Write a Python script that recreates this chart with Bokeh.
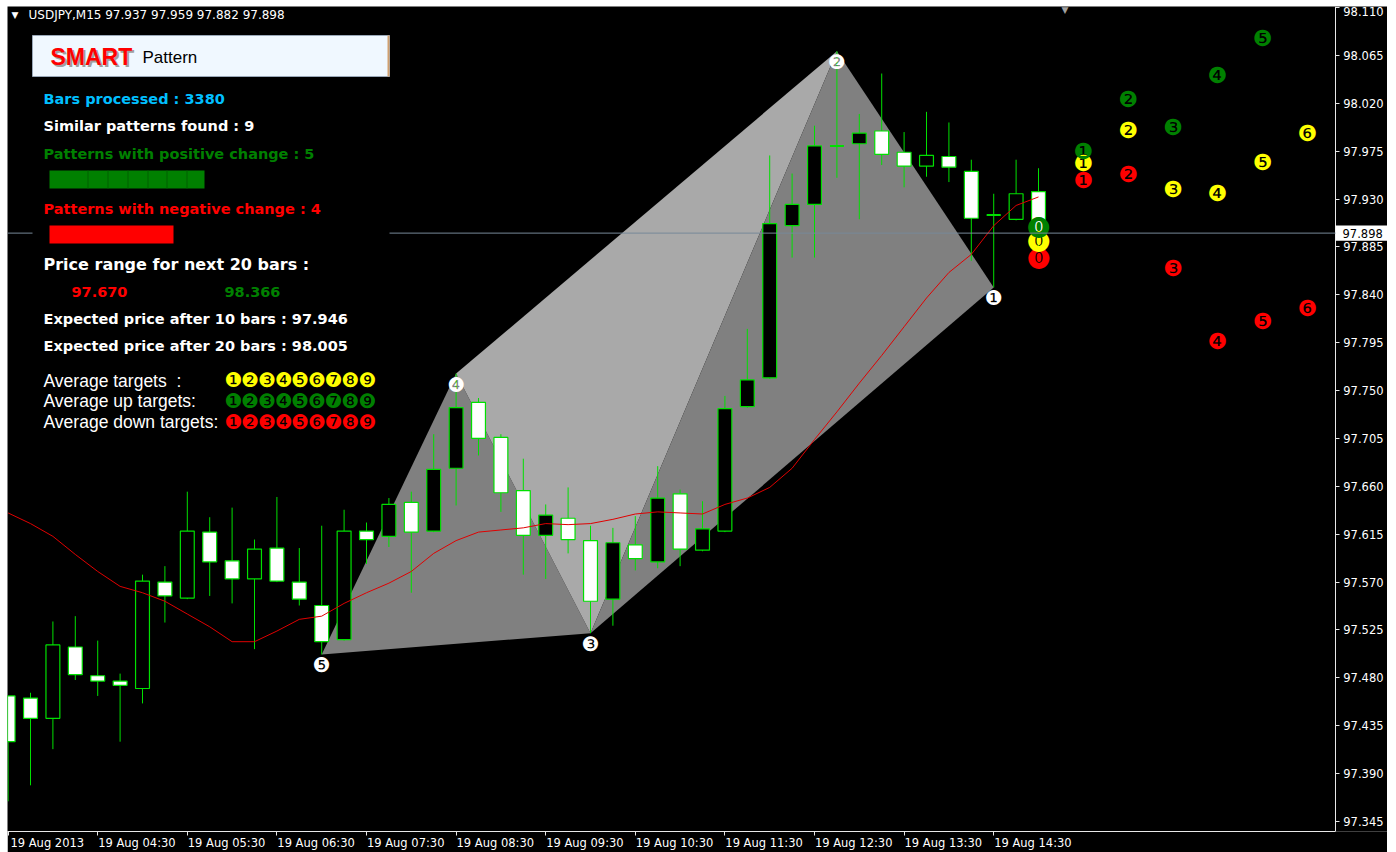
from bokeh.plotting import figure
from bokeh.models import Range1d, FixedTicker, Label, BoxAnnotation, Span, PrintfTickFormatter, ColumnDataSource
from bokeh.embed import file_html
from bokeh.resources import INLINE
from bokeh.core.properties import value

# ---------------- data ----------------
opens = [97.463, 97.461, 97.442, 97.509, 97.482, 97.477, 97.470, 97.570, 97.555, 97.617,
         97.590, 97.573, 97.602, 97.570, 97.548, 97.516, 97.618, 97.613, 97.645, 97.618,
         97.677, 97.739, 97.706, 97.656, 97.614, 97.630, 97.609, 97.554, 97.605, 97.589,
         97.653, 97.600, 97.618, 97.735, 97.762, 97.905, 97.925, 97.980, 97.982, 97.994,
         97.974, 97.961, 97.970, 97.956, 97.915, 97.911, 97.937]
highs = [97.463, 97.466, 97.533, 97.538, 97.515, 97.484, 97.577, 97.585, 97.655, 97.631,
         97.640, 97.610, 97.650, 97.602, 97.623, 97.638, 97.626, 97.649, 97.655, 97.709,
         97.766, 97.743, 97.709, 97.686, 97.643, 97.659, 97.623, 97.621, 97.632, 97.679,
         97.657, 97.646, 97.745, 97.808, 97.971, 97.954, 97.999, 98.069, 98.010, 98.048,
         97.993, 98.012, 98.002, 97.967, 97.935, 97.967, 97.959]
lows = [97.364, 97.379, 97.413, 97.478, 97.463, 97.420, 97.456, 97.532, 97.554, 97.557,
        97.550, 97.507, 97.570, 97.548, 97.502, 97.515, 97.587, 97.603, 97.560, 97.617,
        97.642, 97.689, 97.636, 97.577, 97.573, 97.597, 97.522, 97.529, 97.581, 97.583,
        97.585, 97.599, 97.617, 97.734, 97.761, 97.875, 97.875, 97.950, 97.911, 97.962,
        97.941, 97.951, 97.946, 97.872, 97.847, 97.910, 97.882]
closes = [97.420, 97.442, 97.511, 97.483, 97.477, 97.473, 97.571, 97.557, 97.618, 97.589,
          97.573, 97.601, 97.571, 97.554, 97.514, 97.618, 97.610, 97.643, 97.617, 97.676,
          97.734, 97.705, 97.654, 97.614, 97.633, 97.610, 97.552, 97.607, 97.592, 97.649,
          97.601, 97.620, 97.733, 97.760, 97.907, 97.925, 97.980, 97.980, 97.992, 97.972,
          97.961, 97.971, 97.960, 97.912, 97.915, 97.935, 97.898]
ma = [97.635, 97.625, 97.613, 97.596, 97.580, 97.566, 97.560, 97.552, 97.540, 97.528,
      97.514, 97.514, 97.524, 97.535, 97.538, 97.550, 97.560, 97.569, 97.580, 97.597,
      97.609, 97.617, 97.619, 97.621, 97.625, 97.624, 97.625, 97.629, 97.634, 97.636,
      97.635, 97.634, 97.643, 97.649, 97.659, 97.677, 97.704, 97.730, 97.757, 97.783,
      97.810, 97.837, 97.861, 97.878, 97.905, 97.924, 97.932]

hour_bars = [0, 4, 8, 12, 16, 20, 24, 28, 32, 36, 40, 44]
hour_labels = ["19 Aug 2013", "19 Aug 04:30", "19 Aug 05:30", "19 Aug 06:30", "19 Aug 07:30",
               "19 Aug 08:30", "19 Aug 09:30", "19 Aug 10:30", "19 Aug 11:30", "19 Aug 12:30",
               "19 Aug 13:30", "19 Aug 14:30"]
price_ticks = [97.345, 97.390, 97.435, 97.480, 97.525, 97.570, 97.615, 97.660, 97.705, 97.750,
               97.795, 97.840, 97.885, 97.930, 97.975, 98.020, 98.065, 98.110]
last_price = 97.898

# zigzag pattern points (label, bar, price)
pattern_names = ["1", "2", "3", "4", "5"]
pattern_bars = [44, 37, 26, 20, 14]
pattern_prices = [97.847, 98.069, 97.522, 97.766, 97.502]

# projected targets (step k -> bar last + 2k)
target_steps = [0, 1, 2, 3, 4, 5, 6]
targets_avg = [97.893, 97.964, 97.995, 97.940, 97.936, 97.965, 97.993]
targets_up = [97.907, 97.976, 98.025, 97.998, 98.047, 98.082]
targets_down = [97.877, 97.948, 97.954, 97.866, 97.797, 97.816, 97.828]

NEG = ["\u24ff", "\u2776", "\u2777", "\u2778", "\u2779", "\u277a", "\u277b", "\u277c", "\u277d", "\u277e"]

# ---------------- figure ----------------
FL, FT = 7, 6          # page position of frame
FW, FH = 1380, 826     # frame size (includes the price-scale strip)
FB = FT + FH           # frame bottom (page y)
X_LEFT, X_SCALE, X_RIGHT = -0.027, 59.26, 61.58   # chart edge / price-scale edge in bar units

p = figure(width=FW, height=846, x_range=Range1d(X_LEFT, X_RIGHT), y_range=Range1d(97.3356, 98.111),
           y_axis_location="left", title_location=None, output_backend="svg", toolbar_location=None,
           min_border_left=0, min_border_top=0, min_border_right=0, min_border_bottom=20,
           background_fill_color="black", border_fill_color="black", outline_line_color=None)
p.margin = (FT, 0, 0, FL)
p.grid.visible = False

AX = "#e8e8e8"
# price scale: drawn at the chart's right edge, labels to its right
p.yaxis.fixed_location = X_SCALE
p.yaxis.ticker = FixedTicker(ticks=price_ticks)
p.yaxis.formatter = PrintfTickFormatter(format="%.3f")
p.yaxis.axis_line_color = AX
p.yaxis.major_tick_line_color = AX
p.yaxis.major_tick_out = 0
p.yaxis.major_tick_in = 4
p.yaxis.minor_tick_line_color = None
p.yaxis.major_label_standoff = -48
p.yaxis.major_label_text_color = "white"
p.yaxis.major_label_text_font = "DejaVu Sans"
p.yaxis.major_label_text_font_size = "11.5px"

shift = 1.75
p.xaxis.ticker = FixedTicker(ticks=[b + shift for b in hour_bars], minor_ticks=hour_bars)
p.xaxis.major_label_overrides = {b + shift: lab for b, lab in zip(hour_bars, hour_labels)}
p.xaxis.bounds = (X_LEFT, X_SCALE)
p.xaxis.axis_line_color = AX
p.xaxis.major_tick_line_color = None
p.xaxis.major_tick_out = 0
p.xaxis.major_tick_in = 0
p.xaxis.minor_tick_line_color = AX
p.xaxis.minor_tick_out = 4
p.xaxis.minor_tick_in = 0
p.xaxis.major_label_standoff = 0
p.xaxis.major_label_text_color = "white"
p.xaxis.major_label_text_font = "DejaVu Sans"
p.xaxis.major_label_text_font_size = "11.5px"

# pattern triangles
tri = [(4, 3, 2), (3, 2, 1), (2, 1, 0)]
p.patches(xs=[[pattern_bars[a], pattern_bars[b], pattern_bars[c]] for a, b, c in tri],
          ys=[[pattern_prices[a], pattern_prices[b], pattern_prices[c]] for a, b, c in tri],
          fill_color=["#808080", "#a9a9a9", "#808080"], line_color=None)

# candles
GREEN = "#00e000"
idx = list(range(len(opens)))
src = ColumnDataSource(dict(
    x=idx, o=opens, h=highs, l=lows, c=closes,
    top=[max(o, c) for o, c in zip(opens, closes)],
    bot=[min(o, c) for o, c in zip(opens, closes)],
    fill=["black" if c > o else "white" for o, c in zip(opens, closes)],
))
p.segment(x0="x", y0="l", x1="x", y1="h", source=src, line_color=GREEN, line_width=1)
p.vbar(x="x", width=0.62, top="top", bottom="bot", source=src, fill_color="fill",
       line_color=GREEN, line_width=1.2)
dj = [i for i in idx if abs(opens[i] - closes[i]) < 1e-9]
p.segment(x0=[i - 0.31 for i in dj], x1=[i + 0.31 for i in dj], y0=[opens[i] for i in dj],
          y1=[opens[i] for i in dj], line_color=GREEN, line_width=2)

# moving average
p.line(idx, ma, line_color="#e00000", line_width=1)

# pattern point markers
p.text(x=pattern_bars, y=pattern_prices, text=[NEG[int(n)] for n in pattern_names],
       text_color="white", text_font=value("DejaVu Sans"), text_font_size=value("20px"),
       text_align="center", text_baseline="middle", y_offset=11)

# targets
last = idx[-1]
for vals, col in ((targets_down, "#ff0000"), (targets_avg, "#ffff00"), (targets_up, "#008000")):
    ks = target_steps[:len(vals)]
    p.text(x=[last + 2 * k for k in ks], y=vals, text=[NEG[k] for k in ks],
           text_color=col, text_font=value("DejaVu Sans"),
           text_font_size=["21px" if k == 0 else "22px" for k in ks],
           text_align="center", text_baseline="middle", y_offset=1)

# current price line
p.add_layout(Span(location=last_price, dimension="width", line_color="#778899", line_width=1))


def box(x1, y1, x2, y2, fill, line=None):
    p.add_layout(BoxAnnotation(left=x1 - FL, right=x2 - FL, top=FB - y1, bottom=FB - y2,
                               left_units="screen", right_units="screen",
                               top_units="screen", bottom_units="screen",
                               fill_color=fill, fill_alpha=1.0, line_color=line,
                               line_alpha=1.0 if line else 0.0))


def label(text, X, Y, color, size, font="DejaVu Sans", style="bold", **kw):
    p.add_layout(Label(x=X - FL, y=FB - Y, x_units="screen", y_units="screen", text=text,
                       text_color=color, text_font_size=f"{size}px", text_font=font,
                       text_font_style=style, text_baseline="middle", text_align="left", **kw))


# info panel background
box(32, 78, 389, 440, "black")
# title box
box(32, 36, 389, 77, "#f0f8ff", "#9aa8b8")
box(387, 36, 389, 77, "#d0a070")
label("SMART", 52, 59, "#a0a0a0", 23, font="Liberation Sans")
label("SMART", 50, 57, "#ff0000", 23, font="Liberation Sans")
label("Pattern", 142, 58, "#000000", 17, font="Liberation Sans", style="normal")

label("\u25bc", 11, 15, "white", 9, style="normal")
label("USDJPY,M15  97.937 97.959 97.882 97.898", 28, 15, "white", 12, style="normal")

label("Bars processed : 3380", 43, 99, "#00bfff", 14.5)
label("Similar patterns found : 9", 43, 126, "white", 14.5)
label("Patterns with positive change : 5", 43, 154, "#008000", 14.5)
box(49, 171, 204, 189, "#008000")
for dx in (87, 107, 127, 147, 166, 186):
    box(dx, 171, dx + 1, 189, "#006000")
label("Patterns with negative change  : 4", 43, 209, "#ff0000", 14.5)
box(49, 226, 173, 244, "#ff0000")
label("Price range for next 20 bars  :", 43, 265, "white", 16)
label("97.670", 71, 292, "#ff0000", 14.5)
label("98.366", 224, 292, "#008000", 14.5)
label("Expected price after 10 bars : 97.946", 43, 319, "white", 14.5)
label("Expected price after 20 bars : 98.005", 43, 346, "white", 14.5)
label("Average targets\u00a0\u00a0:", 43, 381, "white", 17.5, font="Liberation Sans", style="normal")
label("Average up targets:", 43, 401, "white", 17.5, font="Liberation Sans", style="normal")
label("Average down targets:", 43, 422, "white", 17.5, font="Liberation Sans", style="normal")
for row_y, col in ((380, "#ffff00"), (401, "#008000"), (422, "#ff0000")):
    for k in range(1, 10):
        p.add_layout(Label(x=233 + 16.7 * (k - 1) - FL, y=FB - row_y, x_units="screen",
                           y_units="screen", text=NEG[k], text_color=col,
                           text_font_size="20px", text_font="DejaVu Sans",
                           text_baseline="middle", text_align="center"))

# chart shift marker
label("\u25bc", 1061, 10, "#a0a0a0", 9, style="normal")

# current price tag on the price scale
p.add_layout(BoxAnnotation(left=X_SCALE, top=last_price + 0.0072, bottom=last_price - 0.0072,
                           fill_color="white", fill_alpha=1.0, line_alpha=0.0))
p.add_layout(Label(x=X_SCALE, y=last_price, x_offset=7, text="97.898",
                   text_color="black", text_font_size="11.5px", text_font="DejaVu Sans",
                   text_baseline="middle", text_align="left"))

open("out.html", "w").write(file_html(p, INLINE))
